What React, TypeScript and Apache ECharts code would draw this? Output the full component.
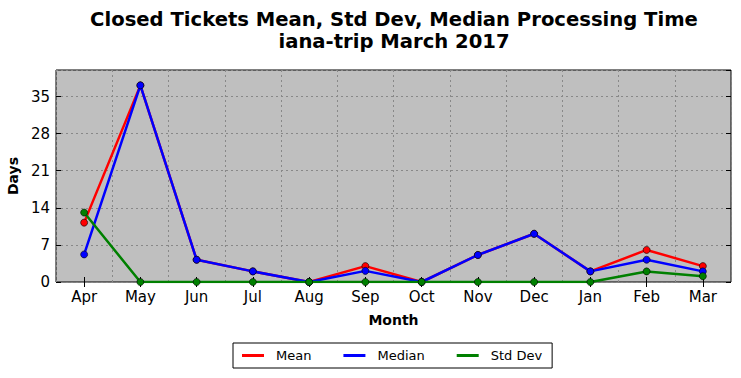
import React, { useEffect, useRef } from "react";
import * as echarts from "echarts";

const months = ["Apr", "May", "Jun", "Jul", "Aug", "Sep", "Oct", "Nov", "Dec", "Jan", "Feb", "Mar"];
const meanValues = [11.2, 37.1, 4.2, 2, 0, 3, 0, 5.1, 9.1, 2, 6.05, 3];
const medianValues = [5.2, 37.1, 4.2, 2, 0, 2.1, 0, 5.1, 9.1, 2, 4.2, 2];
const stdValues = [13.1, 0, 0, 0, 0, 0, 0, 0, 0, 0, 2, 1.1];
const yTicks = [0, 7, 14, 21, 28, 35];

const FONT = "DejaVu Sans";

export default function App() {
  const ref = useRef<HTMLDivElement>(null);
  useEffect(() => {
    const chart = echarts.init(ref.current!, null, { renderer: "svg" });
    const mkSeries = (name: string, data: number[], color: string, z: number) => ({
      name,
      type: "line",
      data,
      z,
      symbol: "circle",
      symbolSize: 7,
      showSymbol: true,
      lineStyle: { color, width: 2.5 },
      itemStyle: { color, borderColor: "#000", borderWidth: 0.6 },
      emphasis: { disabled: true },
    });
    chart.setOption({
      animation: false,
      backgroundColor: "#fff",
      title: {
        text: "Closed Tickets Mean, Std Dev, Median Processing Time\niana-trip March 2017",
        left: 389,
        textAlign: "center",
        top: 3,
        textStyle: { fontFamily: FONT, fontSize: 19.6, fontWeight: "bold", color: "#000", lineHeight: 22 },
      },
      grid: {
        left: 56,
        right: 10,
        top: 70,
        bottom: 96,
        outerBoundsMode: "none",
        containLabel: false,
        show: true,
        backgroundColor: "#bfbfbf",
        borderColor: "#000",
        borderWidth: 1,
      },
      legend: {
        data: ["Mean", "Median", "Std Dev"],
        left: 233,
        top: 343,
        orient: "horizontal",
        itemWidth: 22,
        itemHeight: 3,
        itemGap: 32,
        icon: "rect",
        itemStyle: { borderWidth: 0 },
        borderColor: "#000",
        borderWidth: 1,
        borderRadius: 0,
        padding: [6, 10, 6, 9],
        textStyle: { fontFamily: FONT, fontSize: 13, color: "#000", padding: [0, 0, 0, 7] },
      },
      xAxis: [
        {
          type: "category",
          data: months,
          boundaryGap: true,
          name: "Month",
          nameLocation: "middle",
          nameGap: 31,
          nameTextStyle: { fontFamily: FONT, fontSize: 14, fontWeight: "bold", color: "#000" },
          axisLine: { show: false },
          axisTick: { show: true, inside: true, alignWithLabel: true, length: 5, lineStyle: { color: "#000" } },
          axisLabel: { fontFamily: FONT, fontSize: 15, color: "#000", margin: 7 },
          splitLine: { show: true, interval: 0, lineStyle: { color: "#888", type: [2, 3], width: 1 } },
        },
        {
          type: "category",
          data: months,
          position: "top",
          boundaryGap: true,
          axisLine: { show: false },
          axisTick: { show: true, inside: true, alignWithLabel: true, length: 5, lineStyle: { color: "#000" } },
          axisLabel: { show: false },
          splitLine: { show: false },
        },
      ],
      yAxis: [
        {
          type: "value",
          min: 0,
          max: 40,
          interval: 7,
          name: "Days",
          nameLocation: "middle",
          nameGap: 34,
          nameRotate: 90,
          nameTextStyle: { fontFamily: FONT, fontSize: 14, fontWeight: "bold", color: "#000" },
          axisLine: { show: false },
          axisTick: { show: true, inside: true, length: 5, lineStyle: { color: "#000" } },
          axisLabel: {
            fontFamily: FONT,
            fontSize: 15,
            color: "#000",
            margin: 6,
            showMaxLabel: false,
            formatter: (v: number) => (yTicks.includes(v) ? String(v) : ""),
          },
          splitLine: { show: true, lineStyle: { color: "#888", type: [2, 3], width: 1 } },
        },
        {
          type: "value",
          min: 0,
          max: 40,
          interval: 7,
          position: "right",
          axisLine: { show: false },
          axisTick: { show: true, inside: true, length: 5, lineStyle: { color: "#000" } },
          axisLabel: { show: false },
          splitLine: { show: false },
        },
      ],
      series: [
        mkSeries("Mean", meanValues, "#ff0000", 2),
        mkSeries("Median", medianValues, "#0000ff", 3),
        mkSeries("Std Dev", stdValues, "#008000", 4),
      ],
    });
    return () => chart.dispose();
  }, []);
  return <div ref={ref} style={{ width: 741, height: 378, position: "absolute", left: 0, top: 0 }} />;
}
